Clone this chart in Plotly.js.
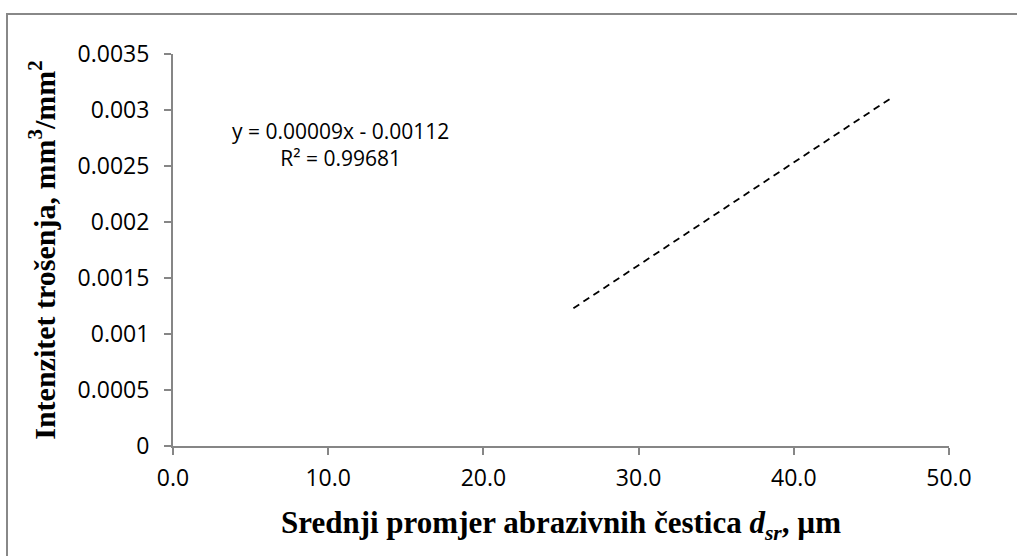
<!DOCTYPE html>
<html>
<head>
<meta charset="utf-8">
<script src="https://cdn.plot.ly/plotly-3.0.1.min.js"></script>
<style>html,body{margin:0;padding:0;background:#fff;}#chart{width:1017px;height:556px;}</style>
</head>
<body>
<div id="chart"></div>
<script>
// Trendline endpoints
const trendX = [25.8, 46.2];
const trendY = [0.00123, 0.0031];
const xTickVals = [0, 10, 20, 30, 40, 50];
const xTickText = ["0.0", "10.0", "20.0", "30.0", "40.0", "50.0"];
const yTickVals = [0, 0.0005, 0.001, 0.0015, 0.002, 0.0025, 0.003, 0.0035];
const yTickText = ["0", "0.0005", "0.001", "0.0015", "0.002", "0.0025", "0.003", "0.0035"];
const equationText = "y = 0.00009x - 0.00112<br>R² = 0.99681";
const xTitle = "Srednji promjer abrazivnih čestica <i>d</i><sub><i>sr</i></sub>, µm";
const yTitle = "Intenzitet trošenja, mm<sup>3</sup>/mm<sup>2</sup>";

const axisColor = "#868686";
const sansFamily = "'Open Sans', 'Noto Sans', sans-serif";
const serifFamily = "'Liberation Serif', 'Times New Roman', serif";

const trace = {
  x: trendX, y: trendY, type: "scatter", mode: "lines",
  line: {color: "#000", width: 1.8, dash: "7px,5px"},
  hoverinfo: "skip", showlegend: false
};

const layout = {
  width: 1017, height: 556,
  margin: {l: 173, r: 68, t: 54, b: 110},
  paper_bgcolor: "#fff", plot_bgcolor: "#fff",
  showlegend: false,
  xaxis: {
    range: [0, 50], tickvals: xTickVals, ticktext: xTickText, tickmode: "array",
    showgrid: false, zeroline: false, showline: true, linecolor: axisColor, linewidth: 2,
    ticks: "outside", ticklen: 7, tickwidth: 2, tickcolor: axisColor,
    tickfont: {family: sansFamily, size: 23, color: "#000"}, ticklabelstandoff: 3,
    title: {text: xTitle, font: {family: serifFamily, size: 31, color: "#000", weight: "bold"}, standoff: 20}
  },
  yaxis: {
    range: [0, 0.0035], tickvals: yTickVals, ticktext: yTickText, tickmode: "array",
    showgrid: false, zeroline: false, showline: true, linecolor: axisColor, linewidth: 2,
    ticks: "outside", ticklen: 7, tickwidth: 2, tickcolor: axisColor,
    tickfont: {family: sansFamily, size: 23, color: "#000"}, ticklabelstandoff: 10,
    title: {text: yTitle, font: {family: serifFamily, size: 30, color: "#000", weight: "bold"}, standoff: 13}
  },
  annotations: [{
    text: equationText, xref: "paper", yref: "paper",
    x: (340 - 173) / 776, y: (446 - 144) / 392,
    xanchor: "center", yanchor: "middle", align: "center", showarrow: false,
    font: {family: sansFamily, size: 21, color: "#000"}
  }],
  shapes: [{
    type: "rect", xref: "paper", yref: "paper",
    x0: (7 - 173) / 776, x1: (1040 - 173) / 776,
    y0: (446 - 600) / 392, y1: (446 - 14) / 392,
    line: {color: "#888", width: 2}, fillcolor: "rgba(0,0,0,0)", layer: "below"
  }]
};

Plotly.newPlot("chart", [trace], layout, {staticPlot: true, displayModeBar: false});
</script>
</body>
</html>
